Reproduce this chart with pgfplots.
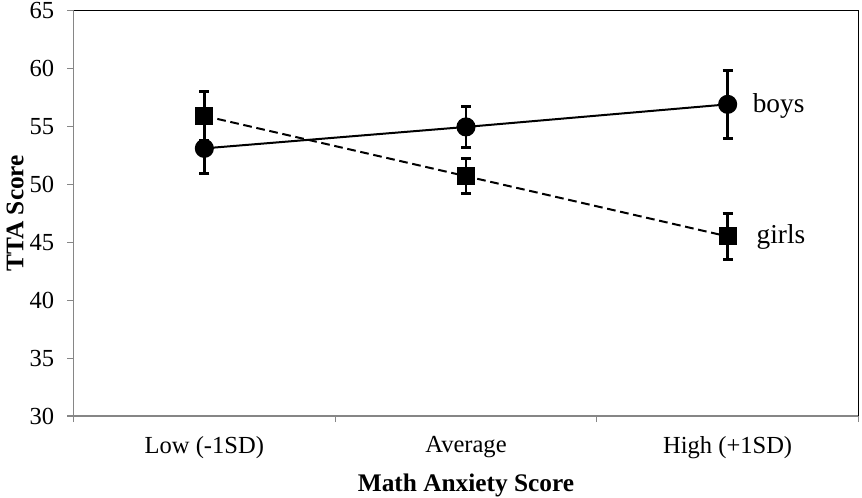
\documentclass[border=0pt]{standalone}
\usepackage{pgfplots}
\pgfplotsset{compat=1.18}
\usepackage{fontspec}
\setmainfont{Liberation Serif}
\definecolor{axgray}{RGB}{134,134,134}
\begin{document}
\begin{tikzpicture}
\begin{axis}[
  name=ax,
  scale only axis,
  width=588.75pt, height=304.125pt,
  xmin=-0.5, xmax=2.5,
  ymin=30, ymax=65,
  ytick={30,35,...,65},
  xtick={0,1,2},
  xticklabels={Low (-1SD), Average, High (+1SD)},
  minor xtick={-0.5,0.5,1.5,2.5},
  xtick pos=bottom, ytick pos=left,
  tick align=outside,
  major tick length=4.5pt,
  minor tick length=4.5pt,
  x tick style={draw=none},
  minor x tick style={draw=axgray, line width=0.8pt},
  y tick style={draw=axgray, line width=0.8pt},
  axis line style={draw=axgray, line width=0.8pt},
  tick label style={font=\fontsize{18.4}{21}\selectfont},
  xticklabel style={yshift=-7.5pt},
  yticklabel style={xshift=-6.5pt},
  /pgf/number format/assume math mode=true,
  xlabel={\textbf{Math Anxiety Score}},
  ylabel={\textbf{TTA Score}},
  label style={font=\fontsize{19}{22}\selectfont},
  xlabel style={at={(axis description cs:0.5,-0.187)}, anchor=base},
  ylabel style={at={(axis description cs:-0.0745,0.5)}, anchor=center},
  clip=false,
]
\draw[black, line width=0.8pt] (rel axis cs:0,1) -- (rel axis cs:1,1) -- (rel axis cs:1,0);
% girls
\addplot[black, line width=1.5pt, dash pattern=on 6.5pt off 3.5pt,
  mark=square*, mark size=6pt, mark options={solid},
  error bars/.cd, y dir=both, y explicit,
  error mark=|, error mark options={line width=2.2pt, mark size=3.75pt, solid},
  error bar style={line width=2.2pt, solid}]
coordinates {
  (0,55.9) +- (0,2.1)
  (1,50.7) +- (0,1.5)
  (2,45.5) +- (0,2.0)
};
% boys
\addplot[black, line width=1.5pt, solid,
  mark=*, mark size=6.4pt,
  error bars/.cd, y dir=both, y explicit,
  error mark=|, error mark options={line width=2.2pt, mark size=3.75pt},
  error bar style={line width=2.2pt}]
coordinates {
  (0,53.1) +- (0,2.2)
  (1,54.95) +- (0,1.75)
  (2,56.9) +- (0,2.95)
};
\node[anchor=base west, inner sep=0pt, font=\fontsize{20.5}{23}\selectfont] at (axis cs:2.095,56.23) {boys};
\node[anchor=base west, inner sep=0pt, font=\fontsize{20.5}{23}\selectfont] at (axis cs:2.11,44.91) {girls};
\end{axis}
\pgfresetboundingbox
\path ([shift={(-55.125pt,-60.75pt)}]ax.south west) rectangle ([shift={(2.625pt,7.875pt)}]ax.north east);
\end{tikzpicture}
\end{document}
